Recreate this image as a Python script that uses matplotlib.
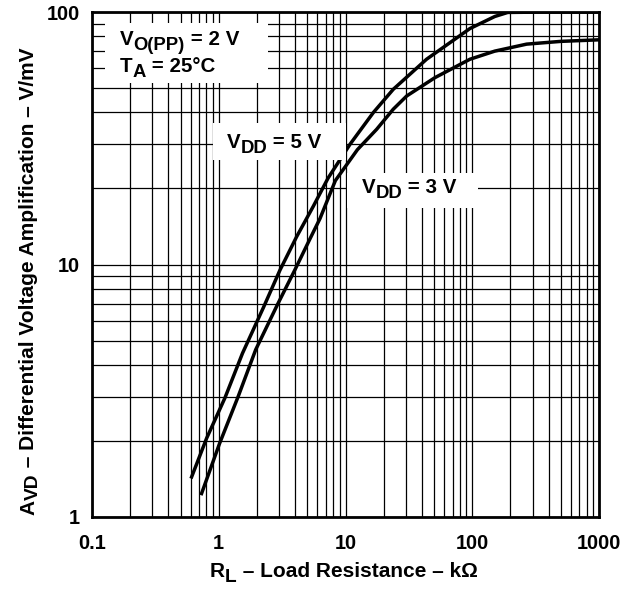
import matplotlib
matplotlib.use("Agg")
import matplotlib.pyplot as plt
from matplotlib.ticker import FixedLocator, LogLocator, NullFormatter
from matplotlib.patches import Rectangle

plt.rcParams['font.family'] = ['Liberation Sans', 'DejaVu Sans']
plt.rcParams['font.weight'] = 'bold'

# Data
rl_5v = [0.604, 0.802, 1.118, 1.539, 2.25, 3.04, 4.12, 5.57, 7.29, 10.89, 16.6, 23.8, 43.6, 95.9, 150.7, 190.4, 400, 1000]
avd_5v = [1.42, 2.05, 2.96, 4.45, 6.75, 9.5, 12.9, 17.0, 22.0, 30.0, 40.0, 49.4, 65, 86, 96, 99.6, 100, 100]
rl_3v = [0.724, 1.013, 1.423, 1.957, 2.89, 4.00, 5.23, 6.29, 8.32, 12.42, 17.6, 23.8, 30.4, 50.9, 95.9, 150.7, 268.5, 500, 1000]
avd_3v = [1.22, 1.95, 3.0, 4.6, 6.9, 9.55, 12.6, 15.2, 21.5, 28.5, 34.3, 41.2, 46.5, 55, 65, 70, 74.6, 76.5, 77.6]
x_ticks = [0.1, 1, 10, 100, 1000]
x_tick_labels = ['0.1', '1', '10', '100', '1000']
y_ticks = [1, 10, 100]
y_tick_labels = ['1', '10', '100']

W, H = 628, 589
fig = plt.figure(figsize=(W / 100, H / 100), dpi=100)
l, r, t, b = 92, 599, 12, 517
ax = fig.add_axes([l / W, 1 - b / H, (r - l) / W, (b - t) / H])

ax.set_xscale('log')
ax.set_yscale('log')
ax.set_xlim(0.1, 1000)
ax.set_ylim(1, 100)

ax.xaxis.set_major_locator(FixedLocator(x_ticks))
ax.set_xticklabels(x_tick_labels)
ax.yaxis.set_major_locator(FixedLocator(y_ticks))
ax.set_yticklabels(y_tick_labels)
ax.xaxis.set_minor_locator(LogLocator(base=10, subs=range(2, 10)))
ax.yaxis.set_minor_locator(LogLocator(base=10, subs=range(2, 10)))
ax.xaxis.set_minor_formatter(NullFormatter())
ax.yaxis.set_minor_formatter(NullFormatter())
ax.tick_params(which='both', length=0, labelsize=14.3)
ax.tick_params(axis='y', pad=9)
ax.tick_params(axis='x', pad=12)
for lab in ax.get_xticklabels() + ax.get_yticklabels():
    lab.set_fontweight('bold')

ax.grid(True, which='both', color='black', lw=0.9)
ax.set_axisbelow(True)
for s in ax.spines.values():
    s.set_linewidth(2)
    s.set_color('black')
    s.set_zorder(6)

ax.plot(rl_5v, avd_5v, color='black', lw=2.5, solid_capstyle='butt', zorder=5)
ax.plot(rl_3v, avd_3v, color='black', lw=2.5, solid_capstyle='butt', zorder=5)


def white_box(x0, y0, x1, y1):
    rect = Rectangle((x0 / W, 1 - y1 / H), (x1 - x0) / W, (y1 - y0) / H,
                     transform=fig.transFigure, facecolor='white', edgecolor='none', zorder=3)
    rect.set_clip_on(False)
    fig.add_artist(rect)


white_box(105, 23, 268, 83)
white_box(213, 123, 346, 160)
white_box(347, 173, 478, 208)

renderer = fig.canvas.get_renderer()


def text_width(s, fs):
    t1 = fig.text(0, 0, '|' + s + '|', fontsize=fs, fontweight='bold')
    t2 = fig.text(0, 0, '||', fontsize=fs, fontweight='bold')
    w = t1.get_window_extent(renderer).width - t2.get_window_extent(renderer).width
    t1.remove()
    t2.remove()
    return w


def rich(x, y, runs, fs, rotation=0):
    """x, y: pixel position (from top-left) of start of baseline.
    runs: list of (text, size factor, drop in px)."""
    pos = 0.0
    for s, k, drop in runs:
        size = fs * k
        if rotation == 0:
            px, py = x + pos, y + drop
        else:
            px, py = x + drop, y - pos
        fig.text(px / W, 1 - py / H, s, fontsize=size, fontweight='bold',
                 ha='left', va='baseline', rotation=rotation,
                 rotation_mode='anchor', zorder=7)
        pos += text_width(s, size)


rich(120, 45, [('V', 1, 0), ('O(PP)', 0.9, 5), (' = 2 V', 1, 0)], 14.8)
rich(120, 72, [('T', 1, 0), ('A', 0.9, 5), (' = 25°C', 1, 0)], 14.8)
rich(227, 148, [('V', 1, 0), ('DD', 0.9, 5), (' = 5 V', 1, 0)], 14.8)
rich(362, 193, [('V', 1, 0), ('DD', 0.9, 5), (' = 3 V', 1, 0)], 14.8)

rich(210, 577, [('R', 1, 0), ('L', 0.92, 5), (' – Load Resistance – kΩ', 1, 0)], 15)
rich(34, 515, [('A', 1, 0), ('VD', 0.92, 4),
               (' – Differential Voltage Amplification – V/mV', 1, 0)], 15, rotation=90)

fig.savefig('out.png', dpi=100, facecolor='white')
